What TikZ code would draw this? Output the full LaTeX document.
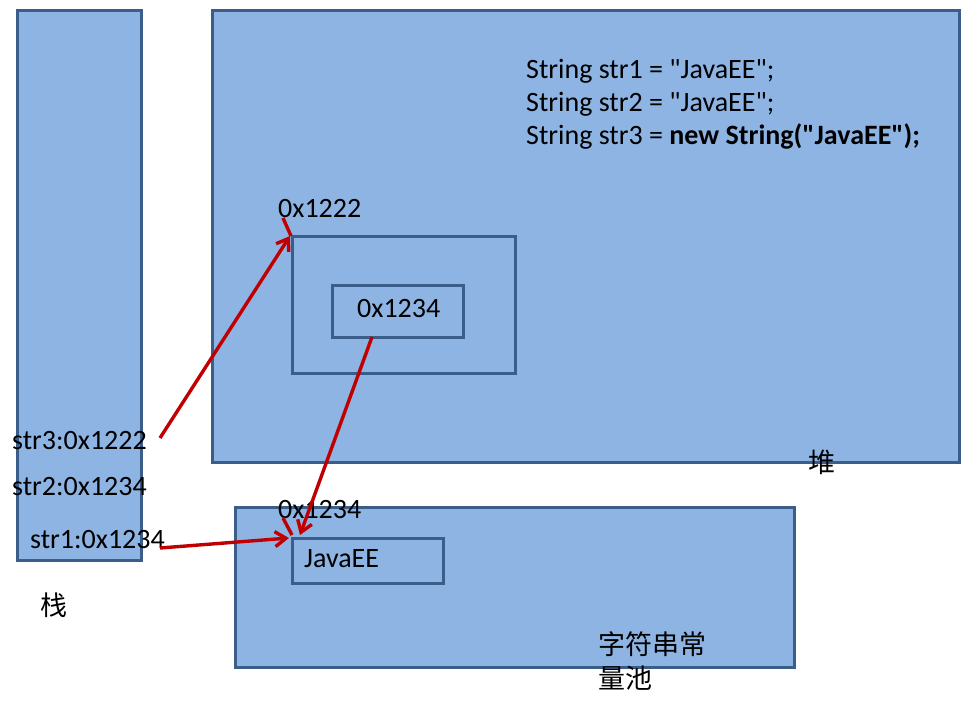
\documentclass[tikz,border=0pt]{standalone}
\usepackage{fontspec}
\setmainfont{Carlito}[Ligatures=TeXOff]
\newfontfamily\cjk{Noto Sans CJK SC}
\usetikzlibrary{arrows.meta}
\definecolor{boxfill}{HTML}{8EB4E3}
\definecolor{boxline}{HTML}{3B5D89}
\definecolor{arr}{HTML}{C00000}
\begin{document}
\begin{tikzpicture}[x=1pt,y=-1pt,
  box/.style={draw=boxline, line width=3pt, fill=boxfill, inner sep=0pt, outer sep=0pt, anchor=north west},
  frame/.style={draw=boxline, line width=3pt, inner sep=0pt, outer sep=0pt, anchor=north west},
  txt/.style={inner sep=0pt, anchor=west, font=\fontsize{28}{32}\selectfont},
  cjktxt/.style={inner sep=0pt, anchor=west, font=\fontsize{27}{31}\selectfont\cjk},
  redarrow/.style={draw=arr, line width=3.4pt, -{Straight Barb[length=11pt,width=15pt,line width=3.4pt]}},
  redline/.style={draw=arr, line width=3.4pt}]
\useasboundingbox[fill=white] (0,0) rectangle (980,702);
% boxes
\node[box, minimum width=124pt, minimum height=550pt] (stack) at (17,10) {};
\node[box, minimum width=747pt, minimum height=452pt] (heap) at (212,10) {};
\node[frame, minimum width=223pt, minimum height=137pt] (obj) at (292,236) {};
\node[frame, minimum width=131pt, minimum height=52pt] (ref) at (332,285) {};
\node[box, minimum width=559pt, minimum height=160pt] (pool) at (235,507) {};
\node[frame, minimum width=151pt, minimum height=45pt] (javaee) at (292,538) {};
% texts
\node[txt] (code1) at (526,71) {String str1 = "JavaEE";};
\node[txt] (code2) at (526,104) {String str2 = "JavaEE";};
\node[txt] (code3) at (526,137) {String str3 = \textbf{new String("JavaEE");}};
\node[txt] (lab1222) at (278,209) {0x1222};
\node[txt] (lab1234a) at (357,309) {0x1234};
\node[txt] (str3) at (12,441) {str3:0x1222};
\node[txt] (str2) at (12,487) {str2:0x1234};
\node[txt] (str1) at (30,540) {str1:0x1234};
\node[cjktxt] (zhan) at (40,605) {栈};
\node[cjktxt] (dui) at (808,462) {堆};
\node[txt] (lab1234b) at (278,510) {0x1234};
\node[txt] (jtxt) at (304,559) {JavaEE};
\node[cjktxt] (pool1) at (598,644) {字符串常};
\node[cjktxt] (pool2) at (598,678) {量池};
% connectors
\coordinate (s3) at (160,438);
\coordinate (s1) at (160,548);
\draw[redarrow] (s3) -- ([xshift=-2pt]obj.north west);
\draw[redline] (283,218) -- ([xshift=-1pt]obj.north west);
\draw[redarrow] ([xshift=-25.5pt]ref.south) -- ([xshift=8pt,yshift=3pt]javaee.north west);
\draw[redarrow] (s1) -- ([xshift=-3pt]javaee.north west);
\draw[redline] (283,518) -- ([xshift=0pt,yshift=3pt]javaee.north west);
\end{tikzpicture}
\end{document}
